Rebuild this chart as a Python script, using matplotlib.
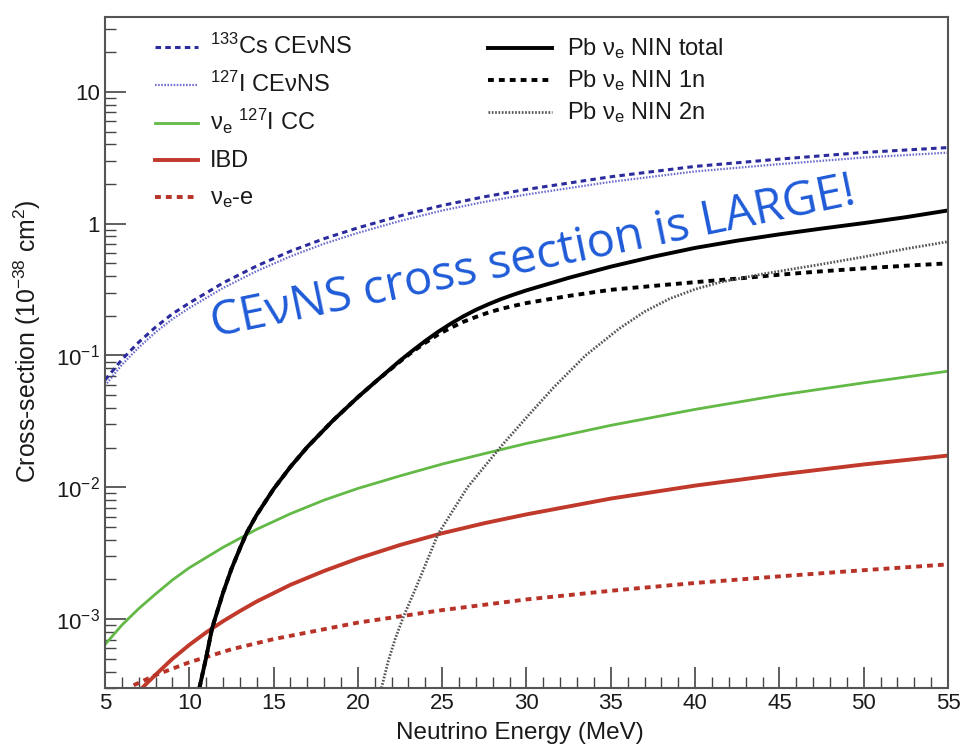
import numpy as np
import matplotlib
matplotlib.use('Agg')
import matplotlib.pyplot as plt
from matplotlib.ticker import FixedLocator, FixedFormatter, MultipleLocator, NullFormatter

plt.rcParams['font.family'] = ['Liberation Sans', 'DejaVu Sans']
plt.rcParams['mathtext.fontset'] = 'custom'
plt.rcParams['mathtext.rm'] = 'Liberation Sans'
plt.rcParams['mathtext.it'] = 'Liberation Sans:italic'
plt.rcParams['mathtext.default'] = 'regular'

# ---------------------------
# data (cross-section in 1e-38 cm^2, energy in MeV)
# ---------------------------
e_cevns = [5, 6, 7, 8, 9, 10, 12, 14, 16, 18, 20, 22.5, 25, 27.5, 30, 35, 40, 45, 50, 55]
cs_cevns = [0.065, 0.093, 0.126, 0.164, 0.207, 0.25, 0.355, 0.478, 0.618, 0.77, 0.93, 1.146,
            1.375, 1.60, 1.82, 2.27, 2.72, 3.09, 3.47, 3.78]
i_cevns = [0.059, 0.085, 0.115, 0.150, 0.189, 0.229, 0.325, 0.437, 0.565, 0.705, 0.851, 1.049,
           1.258, 1.464, 1.665, 2.077, 2.49, 2.83, 3.175, 3.46]

e_icc = [5, 6, 7, 8, 9, 10, 12, 14, 16, 18, 20, 22.5, 25, 27.5, 30, 35, 40, 45, 50, 55]
i_cc = [6.4e-4, 9.0e-4, 1.2e-3, 1.55e-3, 1.98e-3, 2.45e-3, 3.5e-3, 4.8e-3, 6.3e-3, 8.0e-3,
        9.8e-3, 1.22e-2, 1.5e-2, 1.8e-2, 2.15e-2, 2.95e-2, 3.9e-2, 5.0e-2, 6.2e-2, 7.6e-2]

e_ibd = [7.2, 8, 9, 10, 11, 12, 13, 14, 16, 18, 20, 22.5, 25, 27.5, 30, 35, 40, 45, 50, 55]
ibd = [3.0e-4, 3.78e-4, 5.0e-4, 6.37e-4, 7.92e-4, 9.63e-4, 1.15e-3, 1.36e-3, 1.82e-3, 2.32e-3,
       2.88e-3, 3.65e-3, 4.48e-3, 5.34e-3, 6.23e-3, 8.21e-3, 1.03e-2, 1.25e-2, 1.49e-2, 1.74e-2]

e_nue = [6.7, 8, 10, 12.5, 15, 20, 25, 30, 35, 40, 45, 50, 55]
nue_e = [3.15e-4, 3.76e-4, 4.7e-4, 5.9e-4, 7.05e-4, 9.4e-4, 1.17e-3, 1.41e-3, 1.64e-3, 1.88e-3,
         2.11e-3, 2.35e-3, 2.6e-3]

e_pb = [10.6, 11.0, 11.35, 12.0, 12.5, 13.0, 13.4, 14.0, 15.0, 16.0, 17.0, 18.5, 20.0, 21.1,
        22.5, 23.25, 24.0, 24.75, 25.5, 26.25, 27.0, 27.75, 28.5, 29.25, 30.0, 32.5, 35.0,
        37.5, 40.0, 42.5, 45.0, 47.5, 50.0, 52.5, 55.0]
pb_total = [3.0e-4, 5.1e-4, 8.5e-4, 1.58e-3, 2.4e-3, 3.43e-3, 4.5e-3, 6.18e-3, 9.7e-3, 1.43e-2,
            2.02e-2, 3.19e-2, 4.83e-2, 6.41e-2, 9.14e-2, 0.109, 0.129, 0.151, 0.174, 0.198,
            0.222, 0.245, 0.268, 0.290, 0.312, 0.388, 0.472, 0.561, 0.655, 0.743, 0.83, 0.918,
            1.01, 1.12, 1.26]
pb_1n = [3.0e-4, 5.1e-4, 8.5e-4, 1.58e-3, 2.4e-3, 3.43e-3, 4.5e-3, 6.18e-3, 9.7e-3, 1.43e-2,
         2.02e-2, 3.19e-2, 4.83e-2, 6.41e-2, 9.0e-2, 0.107, 0.125, 0.144, 0.162, 0.180, 0.196,
         0.212, 0.226, 0.238, 0.25, 0.283, 0.315, 0.337, 0.36, 0.383, 0.41, 0.435, 0.458, 0.48,
         0.50]

e_pb2n = [21.4, 21.8, 22.2, 22.7, 23.5, 24.75, 26.5, 28.5, 30.1, 31.6, 33.5, 35.5, 37.0, 38.5,
          40.0, 41.5, 44.0, 47.4, 50.0, 52.5, 55.0]
pb_2n = [3.0e-4, 4.8e-4, 7.0e-4, 1.04e-3, 1.8e-3, 4.4e-3, 1.0e-2, 2.05e-2, 3.5e-2, 5.7e-2,
         0.10, 0.16, 0.215, 0.27, 0.318, 0.36, 0.415, 0.49, 0.56, 0.645, 0.73]

x_ticks = [5, 10, 15, 20, 25, 30, 35, 40, 45, 50, 55]
y_ticks = [1e-3, 1e-2, 1e-1, 1, 10]
y_ticklabels = ['10$^{-3}$', '10$^{-2}$', '10$^{-1}$', '1', '10']

left_labels = ['$^{133}$Cs CEνNS', '$^{127}$I CEνNS', 'ν$_{e}$ $^{127}$I CC', 'IBD', 'ν$_{e}$-e']
right_labels = ['Pb ν$_{e}$ NIN total', 'Pb ν$_{e}$ NIN 1n', 'Pb ν$_{e}$ NIN 2n']

# ---------------------------
# figure
# ---------------------------
fig = plt.figure(figsize=(9.64, 7.48), dpi=100)
ax = fig.add_axes([0.1089, 0.0802, 0.8745, 0.8971])
ax.set_yscale('log')

styles_left = [dict(color='#2b2b9e', lw=2.2, ls=(0, (1.8, 1.4))),
               dict(color='#6a6acd', lw=1.6, ls=(0, (0.7, 0.7))),
               dict(color='#62b946', lw=2.0),
               dict(color='#c0392b', lw=2.8),
               dict(color='#b83228', lw=2.8, ls=(0, (1.5, 1.3)))]
styles_right = [dict(color='black', lw=2.8),
                dict(color='black', lw=2.8, ls=(0, (1.5, 1.3))),
                dict(color='#555555', lw=2.0, ls=(0, (0.6, 0.6)))]

ax.plot(e_cevns, cs_cevns, **styles_left[0])
ax.plot(e_cevns, i_cevns, **styles_left[1])
ax.plot(e_icc, i_cc, **styles_left[2])
ax.plot(e_ibd, ibd, **styles_left[3])
ax.plot(e_nue, nue_e, **styles_left[4])
ax.plot(e_pb, pb_total, **styles_right[0])
ax.plot(e_pb, pb_1n, **styles_right[1])
ax.plot(e_pb2n, pb_2n, **styles_right[2])

ax.set_xlim(5, 55)
ax.set_ylim(3e-4, 37)

ax.xaxis.set_major_locator(FixedLocator(x_ticks))
ax.xaxis.set_minor_locator(MultipleLocator(1))
ax.yaxis.set_major_locator(FixedLocator(y_ticks))
ax.yaxis.set_major_formatter(FixedFormatter(y_ticklabels))
ax.yaxis.set_minor_formatter(NullFormatter())
ax.tick_params(which='both', direction='in', top=False, right=False,
               colors='#444444', labelcolor='#1a1a1a', labelsize=16)
ax.tick_params(which='major', length=15, width=1.2)
ax.tick_params(which='minor', length=8, width=1.0)
for s in ax.spines.values():
    s.set_color('#555555')
    s.set_linewidth(1.5)

ax.set_xlabel('Neutrino Energy (MeV)', fontsize=17.5, color='#1a1a1a')
ax.set_ylabel('Cross-section (10$^{-38}$ cm$^{2}$)', fontsize=17.8, color='#1a1a1a')
ax.xaxis.set_label_coords(0.492, -0.051)
ax.yaxis.set_label_coords(-0.0735, 0.516)

# ROOT-like legends, drawn row by row so the spacing stays even
def legend_block(x0, x1, xt, rows_px, labels, styles):
    for ypx, lab, st in zip(rows_px, labels, styles):
        ya = (688 - ypx) / 671.0
        ax.plot([x0, x1], [ya, ya], transform=ax.transAxes, clip_on=False, **st)
        ax.text(xt, ya - 7.0 / 671.0, lab, transform=ax.transAxes, fontsize=17,
                color='#1a1a1a', ha='left', va='baseline')

legend_block(0.0593, 0.1103, 0.1246, [47, 85, 123, 160, 197], left_labels, styles_left)
legend_block(0.4543, 0.5302, 0.548, [48, 80, 112], right_labels, styles_right)

ax.text(30.56, 0.44, 'CEνNS cross section is LARGE!', color='#1f5bd8', fontsize=34,
        family=['Open Sans', 'DejaVu Sans'], rotation=11.7, rotation_mode='anchor',
        ha='center', va='baseline')

fig.savefig('out.png', dpi=100)
